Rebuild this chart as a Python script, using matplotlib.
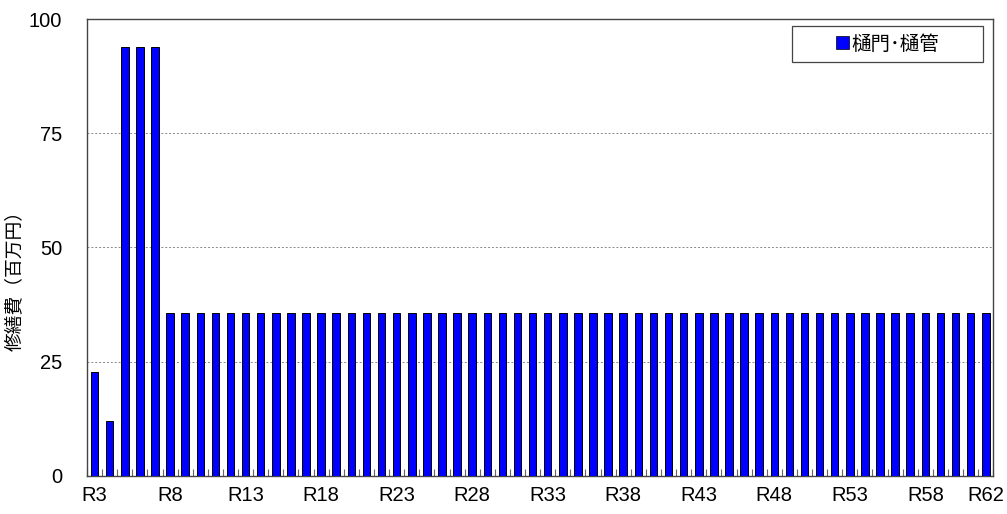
import numpy as np
import matplotlib.pyplot as plt
from matplotlib.patches import Rectangle

plt.rcParams['font.family'] = ['Noto Sans CJK JP', 'DejaVu Sans']

# 年度ラベル R3 ～ R62
years = ['R%d' % i for i in range(3, 63)]
# 修繕費（百万円）
costs = [22.7, 12.0, 93.9, 93.9, 93.9] + [35.6] * 55

shown_labels = ['R3', 'R8', 'R13', 'R18', 'R23', 'R28', 'R33', 'R38',
                'R43', 'R48', 'R53', 'R58', 'R62']

fig = plt.figure(figsize=(10.07, 5.14), dpi=100)
ax = fig.add_axes([0.0864, 0.074, 0.9, 0.889])

x = np.arange(len(years))
ax.bar(x, costs, width=0.5, color='#0000ff', edgecolor='#000000',
       linewidth=0.7, label='樋門･樋管', zorder=3)

ax.set_xlim(-0.5, len(years) - 0.5)
ax.set_ylim(0, 100)
ax.set_yticks([0, 25, 50, 75, 100])
ax.tick_params(axis='y', length=0, pad=18)
ax.yaxis.grid(True, linestyle=(0, (2, 2)), color='#888888', linewidth=0.7)

idx = [years.index(s) for s in shown_labels]
ax.set_xticks(idx)
ax.set_xticklabels(shown_labels)
ax.tick_params(axis='x', length=0, pad=7)
ax.set_xticks(np.arange(len(years) + 1) - 0.5, minor=True)
ax.tick_params(axis='x', which='minor', direction='in', length=5,
               color='#666666', width=0.8)
for lab in ax.get_xticklabels() + ax.get_yticklabels():
    lab.set_family('Liberation Sans')
    lab.set_fontsize(14.5)

for sp in ax.spines.values():
    sp.set_color('#444444')
    sp.set_linewidth(1.0)

ax.set_ylabel('修繕費（百万円）', fontsize=13.5)
ax.yaxis.set_label_coords(-0.0685, 0.437)

# 凡例の枠
ax.add_patch(Rectangle((0.778, 0.906), 0.211, 0.079, transform=ax.transAxes,
                       facecolor='white', edgecolor='#444444', linewidth=0.9,
                       zorder=4, clip_on=False))
leg = ax.legend(loc='center', bbox_to_anchor=(0.8834, 0.9454),
                fontsize=14, frameon=False,
                handlelength=0.65, handleheight=0.65, handletextpad=0.15,
                borderpad=0.0, borderaxespad=0.0)
leg.set_zorder(5)
for h in leg.legend_handles:
    h.set_linewidth(0.5)

plt.savefig('out.png', dpi=100)
